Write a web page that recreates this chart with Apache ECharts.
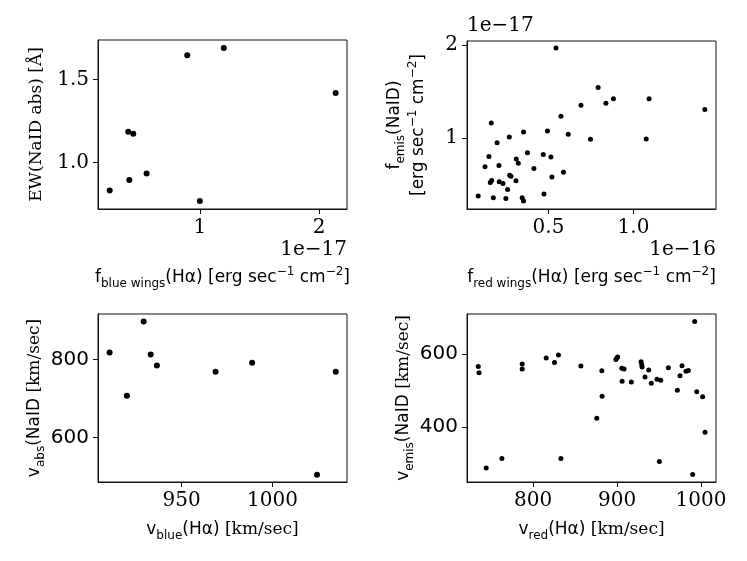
<!DOCTYPE html>
<html>
<head>
<meta charset="utf-8">
<script src="https://cdn.jsdelivr.net/npm/echarts@6/dist/echarts.min.js"></script>
<style>
html, body { margin: 0; padding: 0; background: #fff; }
#chart { width: 747px; height: 561px; }
</style>
</head>
<body>
<div id="chart"></div>
<script>
// top left: blue wing flux (x, units of 1e-17) vs NaID absorption EW (y)
const blueWingFlux = [0.243, 0.399, 0.441, 0.408, 0.553, 0.894, 1.201, 1.0, 2.140];
const absEW = [0.830, 1.185, 1.173, 0.894, 0.934, 1.647, 1.691, 0.767, 1.419];

// top right: red wing flux (x, units of 1e-16) vs NaID emission flux (y, units of 1e-17)
const redWingFlux = [0.544, 0.792, 0.691, 0.838, 0.882, 1.092, 1.420, 0.573, 0.163, 0.353,
  0.269, 0.494, 0.616, 0.747, 1.075, 0.197, 0.149, 0.376, 0.310, 0.322,
  0.469, 0.514, 0.126, 0.208, 0.414, 0.588, 0.271, 0.279, 0.520, 0.165,
  0.157, 0.210, 0.232, 0.308, 0.259, 0.086, 0.175, 0.249, 0.345, 0.353, 0.473];
const emisFlux = [1.967, 1.544, 1.355, 1.377, 1.423, 1.423, 1.309, 1.235, 1.163, 1.067,
  1.014, 1.078, 1.043, 0.989, 0.993, 0.953, 0.804, 0.846, 0.779, 0.733,
  0.825, 0.800, 0.694, 0.708, 0.676, 0.637, 0.605, 0.594, 0.584, 0.548,
  0.526, 0.534, 0.515, 0.544, 0.451, 0.381, 0.363, 0.355, 0.363, 0.328, 0.402];

// bottom left: blue velocity vs NaID absorption velocity (km/sec)
const blueVel = [910.4, 919.9, 929.1, 933.0, 936.4, 968.7, 988.8, 1034.8, 1024.5];
const absVel = [817.9, 707.1, 897.0, 812.8, 784.7, 768.3, 791.3, 768.3, 504.6];

// bottom right: red velocity vs NaID emission velocity (km/sec)
const redVel = [734.5, 735.4, 744.0, 762.7, 786.9, 786.9, 815.5, 825.4, 830.1, 833.0,
  856.8, 875.8, 881.8, 882.1, 898.5, 899.6, 900.8, 905.6, 908.3, 906.0,
  917.0, 928.6, 929.4, 929.8, 937.7, 933.3, 940.8, 947.6, 952.0, 961.1,
  977.4, 975.0, 982.1, 984.9, 971.8, 994.9, 1002.0, 950.4, 992.5, 990.1, 1004.8];
const emisVel = [565.6, 548.2, 287.5, 313.7, 571.9, 558.3, 588.3, 576.5, 596.5, 313.7,
  566.5, 423.8, 553.6, 483.8, 584.7, 588.3, 591.0, 560.2, 558.3, 524.7,
  522.8, 578.2, 570.0, 563.7, 555.5, 536.5, 519.3, 530.2, 527.5, 561.8,
  567.3, 540.0, 552.0, 554.7, 500.2, 496.4, 482.7, 305.5, 688.4, 270.0, 385.7];

// tick labels
const ticks1x = [1, 2], ticks1y = [1.0, 1.5];
const ticks2x = [0.5, 1.0], ticks2y = [1, 2];
const ticks3x = [950, 1000], ticks3y = [600, 800];
const ticks4x = [800, 900, 1000], ticks4y = [400, 600];

const SANS = 'DejaVu Sans';
const SERIF = 'DejaVu Serif';
const INK = '#111';

const rich = {
    n: { fontFamily: SANS, fontSize: 17, color: '#000', lineHeight: 24, verticalAlign: 'middle' },
    r: { fontFamily: SERIF, fontSize: 17, color: '#000', lineHeight: 24, verticalAlign: 'middle' },
    s: { fontFamily: SANS, fontSize: 12, color: '#000', lineHeight: 13, verticalAlign: 'bottom' },
    p: { fontFamily: SANS, fontSize: 12, color: '#000', lineHeight: 18, verticalAlign: 'top' }
};

const zip = (xs, ys) => xs.map((x, i) => [x, ys[i]]);

function axis(grid, min, max, ticks, fmt, font, name, gap, isY) {
    return {
        type: 'value', gridIndex: grid, min: min, max: max, scale: true,
        name: name, nameLocation: 'middle', nameGap: gap, nameRotate: isY ? 90 : 0,
        nameTextStyle: { rich: rich },
        axisLine: { show: true, onZero: false, lineStyle: { color: INK, width: 1 } },
        axisTick: { show: true, length: 5, customValues: ticks, lineStyle: { color: INK, width: 1 } },
        axisLabel: {
            customValues: ticks, margin: 9, fontFamily: font, fontSize: 20, color: '#000',
            formatter: fmt
        },
        splitLine: { show: false }
    };
}

const f1 = v => v.toFixed(1);
const f0 = v => String(Math.round(v));

const grids = [
    { left: 98, top: 40, width: 249, height: 169 },
    { left: 467, top: 41, width: 249, height: 168 },
    { left: 98, top: 314, width: 249, height: 168 },
    { left: 467, top: 314, width: 249, height: 168 }
].map(g => Object.assign(g, { show: true, borderColor: INK, borderWidth: 1, backgroundColor: 'transparent' }));

const dot = { color: '#000', opacity: 1 };

const chart = echarts.init(document.getElementById('chart'));

const option = {
    animation: false,
    backgroundColor: '#fff',
    grid: grids,
    xAxis: [
        axis(0, 0.145, 2.235, ticks1x, f0, SERIF,
            '{n|f}{s|blue wings}{n|(Hα) [erg sec}{p|−1}{n| cm}{p|−2}{n|]}', 57, false),
        axis(1, 0.02, 1.486, ticks2x, f1, SERIF,
            '{n|f}{s|red wings}{n|(Hα) [erg sec}{p|−1}{n| cm}{p|−2}{n|]}', 57, false),
        axis(2, 904, 1041, ticks3x, f0, SERIF,
            '{n|v}{s|blue}{n|(Hα)}{r| [km/sec]}', 36, false),
        axis(3, 721.1, 1017.9, ticks4x, f0, SERIF,
            '{n|v}{s|red}{n|(Hα)}{r| [km/sec]}', 36, false)
    ],
    yAxis: [
        axis(0, 0.719, 1.739, ticks1y, f1, SERIF,
            '{r|EW(NaID abs) [Å]}', 49, true),
        axis(1, 0.242, 2.043, ticks2y, f0, SERIF,
            '{n|f}{s|emis}{n|(NaID)}\n{n|[erg sec}{p|−1}{n| cm}{p|−2}{n|]}', 36, true),
        axis(2, 486, 916.5, ticks3y, f0, SANS,
            '{n|v}{s|abs}{n|(NaID}{r| [km/sec]}', 50, true),
        axis(3, 249.2, 709, ticks4y, f0, SANS,
            '{n|v}{s|emis}{n|(NaID}{r| [km/sec]}', 50, true)
    ],
    series: [
        { type: 'scatter', xAxisIndex: 0, yAxisIndex: 0, symbolSize: 6, itemStyle: dot, data: zip(blueWingFlux, absEW) },
        { type: 'scatter', xAxisIndex: 1, yAxisIndex: 1, symbolSize: 5, itemStyle: dot, data: zip(redWingFlux, emisFlux) },
        { type: 'scatter', xAxisIndex: 2, yAxisIndex: 2, symbolSize: 6, itemStyle: dot, data: zip(blueVel, absVel) },
        { type: 'scatter', xAxisIndex: 3, yAxisIndex: 3, symbolSize: 5, itemStyle: dot, data: zip(redVel, emisVel) }
    ],
    // offset (exponent) texts
    graphic: [
        { type: 'text', right: 400, top: 240, style: { text: '1e−17', font: '20px "DejaVu Serif"', fill: '#000' } },
        { type: 'text', left: 467, top: 16, style: { text: '1e−17', font: '20px "DejaVu Serif"', fill: '#000' } },
        { type: 'text', right: 31, top: 240, style: { text: '1e−16', font: '20px "DejaVu Serif"', fill: '#000' } }
    ]
};

chart.setOption(option);
</script>
</body>
</html>
